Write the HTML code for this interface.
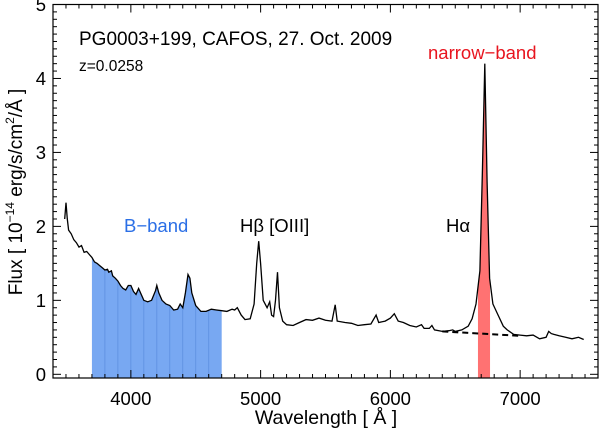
<!DOCTYPE html>
<html><head><meta charset="utf-8"><style>
body{margin:0;background:#fff}
svg{display:block;font-family:"Liberation Sans",sans-serif}
</style></head><body>
<svg id="chart" width="600" height="431" viewBox="0 0 600 431" xmlns="http://www.w3.org/2000/svg">
<g id="fills"></g>
<g id="ticks"></g>
<path id="spec" fill="none" stroke="#000" stroke-width="1.3"/>
<line id="cont" stroke="#000" stroke-width="2" stroke-dasharray="6,4"/>
<rect x="53" y="4.5" width="545" height="373.5" fill="none" stroke="#000" stroke-width="1.2"/>
<text x="79" y="45" font-size="19">PG0003+199, CAFOS, 27. Oct. 2009</text>
<text x="79" y="71" font-size="15.5">z=0.0258</text>
<text x="124" y="232" font-size="18.5" fill="#2b6fe6">B−band</text>
<text x="240" y="232" font-size="18.5">Hβ [OIII]</text>
<text x="446" y="232" font-size="18.5">Hα</text>
<text x="428" y="59" font-size="18.5" fill="#e8141e">narrow−band</text>
<text x="326" y="424" font-size="19.5" text-anchor="middle">Wavelength [ Å ]</text>
<text transform="translate(22,192) rotate(-90)" font-size="19" text-anchor="middle">Flux  [ 10<tspan font-size="12" dy="-8">−14</tspan><tspan dy="8"> erg/s/cm</tspan><tspan font-size="12" dy="-8">2</tspan><tspan dy="8">/Å ]</tspan></text>
</svg>
<script>
const wave=[3490,3500,3510,3520,3540,3560,3580,3600,3620,3640,3660,3680,3700,3720,3740,3760,3780,3800,3820,3830,3850,3860,3880,3900,3920,3940,3960,3980,4000,4020,4040,4060,4080,4100,4130,4160,4190,4200,4215,4240,4270,4300,4330,4360,4380,4400,4420,4440,4455,4470,4500,4540,4580,4620,4660,4700,4740,4780,4800,4820,4850,4880,4920,4950,4970,4985,5000,5020,5050,5070,5085,5100,5115,5130,5145,5170,5200,5250,5300,5350,5400,5450,5500,5550,5575,5590,5650,5700,5750,5800,5850,5890,5910,5960,6000,6030,6060,6100,6150,6200,6240,6260,6300,6320,6340,6400,6450,6480,6500,6550,6600,6630,6660,6690,6710,6728,6745,6765,6790,6830,6870,6900,6950,7000,7050,7100,7150,7200,7220,7240,7260,7300,7350,7400,7450,7490];
const flux=[2.1,2.32,2.1,1.95,1.9,1.82,1.78,1.72,1.74,1.65,1.66,1.62,1.58,1.52,1.5,1.47,1.44,1.41,1.42,1.38,1.4,1.33,1.3,1.26,1.2,1.16,1.14,1.2,1.2,1.12,1.08,1.16,1.08,1.0,0.98,1.0,1.13,1.2,1.1,1.0,0.95,0.93,0.87,0.88,0.95,0.9,1.1,1.35,1.3,1.1,0.93,0.85,0.85,0.88,0.87,0.86,0.85,0.88,0.87,0.9,0.8,0.74,0.75,0.95,1.5,1.8,1.5,1.0,0.9,0.98,0.8,0.78,1.0,1.38,0.9,0.72,0.67,0.66,0.7,0.74,0.73,0.76,0.73,0.72,0.94,0.72,0.7,0.69,0.66,0.67,0.68,0.8,0.7,0.72,0.76,0.82,0.72,0.7,0.66,0.64,0.67,0.62,0.62,0.66,0.6,0.58,0.59,0.6,0.58,0.6,0.65,0.75,0.95,1.4,2.8,4.2,2.6,1.3,0.95,0.8,0.65,0.6,0.54,0.53,0.52,0.53,0.48,0.5,0.58,0.55,0.54,0.52,0.5,0.48,0.5,0.47];
const bBand=[3700,4700];
const nBand=[6675,6768];
const contLine=[[6400,0.58],[7000,0.52]];
const xTicks=[4000,5000,6000,7000];
const yTicks=[0,1,2,3,4,5];
const X0=3400,X1=7600,Y0=-0.05,Y1=5.0;
const px0=53,px1=598,py0=378,py1=4.5;
function xs(w){return px0+(w-X0)/(X1-X0)*(px1-px0);}
function ys(v){return py0-(v-Y0)/(Y1-Y0)*(py0-py1);}
const NS='http://www.w3.org/2000/svg';
function mk(t,a,p){const e=document.createElementNS(NS,t);for(const k in a)e.setAttribute(k,a[k]);p.appendChild(e);return e;}
function interp(w){for(let i=0;i<wave.length-1;i++){if(w>=wave[i]&&w<=wave[i+1]){const t=(w-wave[i])/(wave[i+1]-wave[i]);return flux[i]+t*(flux[i+1]-flux[i]);}}return flux[flux.length-1];}
function bandPath(a,b){let d='M'+xs(a)+','+ys(0)+' L'+xs(a)+','+ys(interp(a));for(let i=0;i<wave.length;i++){if(wave[i]>a&&wave[i]<b)d+=' L'+xs(wave[i])+','+ys(flux[i]);}d+=' L'+xs(b)+','+ys(interp(b))+' L'+xs(b)+','+ys(Y0)+' L'+xs(a)+','+ys(Y0)+'Z';return d;}
const fills=document.getElementById('fills');
const bp=mk('path',{d:bandPath(bBand[0],bBand[1]),fill:'#78a8f2',stroke:'none'},fills);


for(let w=bBand[0]+100;w<bBand[1];w+=100){
  const l=mk('line',{x1:xs(w),x2:xs(w),y1:ys(Y0),y2:ys(interp(w)),stroke:'#5d8fe0','stroke-width':0.8},fills);
  
  
}
const np=mk('path',{d:bandPath(nBand[0],nBand[1]),fill:'#ff7272',stroke:'none'},fills);


let d='';wave.forEach((w,i)=>{d+=(i?' L':'M')+xs(w).toFixed(1)+','+ys(flux[i]).toFixed(1);});
document.getElementById('spec').setAttribute('d',d);
const c=document.getElementById('cont');
c.setAttribute('x1',xs(contLine[0][0]));c.setAttribute('y1',ys(contLine[0][1]));
c.setAttribute('x2',xs(contLine[1][0]));c.setAttribute('y2',ys(contLine[1][1]));
const tk=document.getElementById('ticks');
const svg=document.getElementById('chart');
for(let w=3500;w<=7500;w+=100){
  const maj=w%1000===0, L=maj?8:4;
  mk('line',{x1:xs(w),x2:xs(w),y1:py0,y2:py0-L,stroke:'#000','stroke-width':1},tk);
  mk('line',{x1:xs(w),x2:xs(w),y1:py1,y2:py1+L,stroke:'#000','stroke-width':1},tk);
}
for(let k=0;k<=50;k++){
  const v=k/10, maj=k%10===0, L=maj?8:4;
  mk('line',{x1:px0,x2:px0+L,y1:ys(v),y2:ys(v),stroke:'#000','stroke-width':1},tk);
  mk('line',{x1:px1,x2:px1-L,y1:ys(v),y2:ys(v),stroke:'#000','stroke-width':1},tk);
}
xTicks.forEach(w=>{
  const t=mk('text',{x:xs(w),y:405,'font-size':18.5,'text-anchor':'middle'},svg);t.textContent=w;
  
  
});
yTicks.forEach(v=>{
  const t=mk('text',{x:46,y:ys(v)+6.5,'font-size':18.5,'text-anchor':'end'},svg);t.textContent=v;
  
  
});
</script>
</body></html>
